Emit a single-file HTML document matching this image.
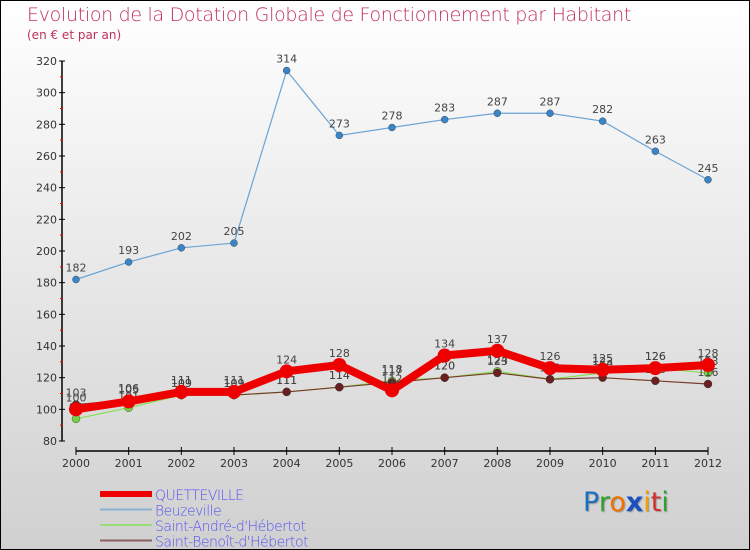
<!DOCTYPE html>
<html><head><meta charset="utf-8"><style>
body{margin:0}
#c{width:748px;height:548px;border:1px solid #000;background:linear-gradient(#fff,#d0d0d0);position:relative;font-family:"DejaVu Sans","Liberation Sans",sans-serif;overflow:hidden}
.t{position:absolute;color:#c0305a;white-space:nowrap}
</style></head><body>
<div id="c">
<div class="t" style="left:26px;top:3px;font-size:19px;font-weight:200;letter-spacing:-0.3px">Evolution de la Dotation Globale de Fonctionnement par Habitant</div>
<div class="t" style="left:26px;top:27px;font-size:12px">(en € et par an)</div>
<svg id="s" width="748" height="548" style="position:absolute;left:0;top:0" font-family="DejaVu Sans, Liberation Sans, sans-serif"></svg>
<div style="position:absolute;left:582px;top:486px;font-size:27px;font-family:'DejaVu Sans',sans-serif;text-shadow:1px 1px 1px #999"><span style="color:#1a6fc0">P</span><span style="color:#30a030">r</span><span style="color:#f07000">o</span><span style="color:#1a50c0;font-weight:bold">x</span><span style="color:#f0a000">i</span><span style="color:#d03030">t</span><span style="color:#30a030">i</span></div>
</div>
<script>
const years=[2000,2001,2002,2003,2004,2005,2006,2007,2008,2009,2010,2011,2012];
const yTicks=[80,100,120,140,160,180,200,220,240,260,280,300,320];
const quetteville=[100,105,111,111,124,128,112,134,137,126,125,126,128];
const beuzeville=[182,193,202,205,314,273,278,283,287,287,282,263,245];
const saintAndre=[94,101,109,109,111,114,118,120,124,119,123,126,123];
const saintBenoit=[103,106,109,109,111,114,117,120,123,119,120,118,116];
const NS='http://www.w3.org/2000/svg';
const s=document.getElementById('s');
const X=i=>75+i*(707-75)/12;
const Y=v=>440-(v-80)*380/240;
function el(t,a,p){const e=document.createElementNS(NS,t);for(const k in a)e.setAttribute(k,a[k]);(p||s).appendChild(e);return e;}
// axes
const ax=el('line',{x1:61,y1:60,x2:61,y2:440,stroke:'#000','stroke-width':1.5});


yTicks.forEach((v,i)=>{
 el('line',{x1:58,x2:64,y1:Y(v),y2:Y(v),stroke:'#000'});
 const t=el('text',{x:56,y:Y(v)+4,'text-anchor':'end','font-size':11,fill:'#333'});t.textContent=v;
 
 
 if(i<yTicks.length-1)el('line',{x1:59,x2:62,y1:Y(v+10),y2:Y(v+10),stroke:'#e00'});
});
const xa=el('line',{x1:75,y1:450,x2:707,y2:450,stroke:'#000','stroke-width':1.5});


years.forEach((y,i)=>{
 el('line',{x1:X(i),x2:X(i),y1:446,y2:454,stroke:'#000'});
 const t=el('text',{x:X(i),y:466,'text-anchor':'middle','font-size':11,fill:'#333'});t.textContent=y;
 
 
});
function series(d,col,w,r,dot,name,lab){
 const g=el('g',{});
 
 
 el('polyline',{points:d.map((v,i)=>X(i)+','+Y(v)).join(' '),fill:'none',stroke:col,'stroke-width':w,'stroke-linejoin':'round'},g);
 d.forEach((v,i)=>{const c=el('circle',{cx:X(i),cy:Y(v),r:r,fill:dot,stroke:dot==='#e00'?'none':'#333','stroke-width':0.4},g);
  
  
  if(lab){const t=el('text',{x:X(i),y:Y(v)-8,'text-anchor':'middle','font-size':11,fill:'#444'},g);t.textContent=v;}
 });
}
series(beuzeville,'#6aa3d5',1.2,3.5,'#3a85c8','series-beuzeville',true);
series(saintAndre,'#88dd55',1.2,4,'#77d040','series-saint-andre',true);
series(saintBenoit,'#7a3a2a',1.2,4,'#6a2020','series-saint-benoit',true);
series(quetteville,'#e00',8,7,'#e00','series-quetteville',true);
// legend
const leg=[['QUETTEVILLE','#e00',6],['Beuzeville','#8ab0d0',2],["Saint-André-d'Hébertot",'#99dd77',2],["Saint-Benoît-d'Hébertot",'#8a6060',2]];
leg.forEach((l,i)=>{const y=493+i*15.5;
 const g=el('g',{});
 
 
 el('line',{x1:99,x2:151,y1:y,y2:y,stroke:l[1],'stroke-width':l[2]},g);
 const t=el('text',{x:154,y:y+6,'font-size':14,fill:'#5555ee','font-weight':300,'letter-spacing':-0.5},g);t.textContent=l[0];
});
</script>
</body></html>
